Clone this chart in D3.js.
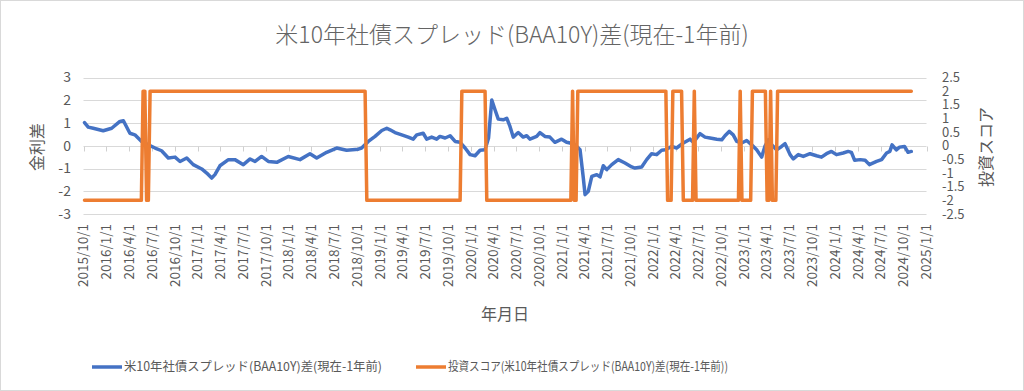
<!DOCTYPE html>
<html><head><meta charset="utf-8">
<script src="https://cdn.jsdelivr.net/npm/d3@7"></script>
<style>
body{margin:0;background:#fff}
svg{display:block}
text{font-family:"Noto Sans CJK JP","Noto Sans",sans-serif;fill:#595959}
</style>
</head><body>
<svg id="chart" width="1024" height="391"></svg>
<script>
const titleText = "米10年社債スプレッド(BAA10Y)差(現在-1年前)";
const seriesNames = ["米10年社債スプレッド(BAA10Y)差(現在-1年前)", "投資スコア(米10年社債スプレッド(BAA10Y)差(現在-1年前))"];
const leftAxisTitle = "金利差";
const rightAxisTitle = "投資スコア";
const xAxisTitle = "年月日";

const xTickLabels = ["2015/10/1","2016/1/1","2016/4/1","2016/7/1","2016/10/1","2017/1/1","2017/4/1","2017/7/1","2017/10/1","2018/1/1","2018/4/1","2018/7/1","2018/10/1","2019/1/1","2019/4/1","2019/7/1","2019/10/1","2020/1/1","2020/4/1","2020/7/1","2020/10/1","2021/1/1","2021/4/1","2021/7/1","2021/10/1","2022/1/1","2022/4/1","2022/7/1","2022/10/1","2023/1/1","2023/4/1","2023/7/1","2023/10/1","2024/1/1","2024/4/1","2024/7/1","2024/10/1","2025/1/1"];
const leftTicks = [-3,-2,-1,0,1,2,3];
const rightTicks = [-2.5,-2,-1.5,-1,-0.5,0,0.5,1,1.5,2,2.5];

const spreadDates = ["2015-10-05","2015-10-20","2015-11-09","2015-12-19","2016-01-22","2016-02-24","2016-03-09","2016-04-04","2016-04-24","2016-05-21","2016-06-17","2016-07-14","2016-08-09","2016-09-05","2016-10-02","2016-10-22","2016-11-18","2016-12-14","2017-01-17","2017-02-06","2017-02-26","2017-03-11","2017-03-31","2017-05-04","2017-05-30","2017-07-03","2017-07-30","2017-08-19","2017-09-14","2017-10-11","2017-11-14","2017-12-30","2018-02-15","2018-03-27","2018-04-23","2018-06-02","2018-07-12","2018-08-21","2018-10-07","2018-10-20","2018-11-16","2018-12-13","2019-01-09","2019-01-29","2019-02-11","2019-03-03","2019-03-30","2019-04-25","2019-05-15","2019-05-29","2019-06-24","2019-07-08","2019-07-28","2019-08-17","2019-08-30","2019-09-20","2019-10-10","2019-10-30","2019-11-19","2019-12-09","2019-12-29","2020-01-18","2020-02-07","2020-02-27","2020-03-12","2020-03-25","2020-04-07","2020-04-20","2020-05-10","2020-05-24","2020-06-06","2020-06-19","2020-07-09","2020-07-29","2020-08-12","2020-08-25","2020-09-21","2020-10-04","2020-10-24","2020-11-13","2020-12-03","2020-12-30","2021-01-19","2021-02-02","2021-02-22","2021-03-14","2021-03-27","2021-04-03","2021-04-16","2021-04-30","2021-05-20","2021-06-02","2021-06-15","2021-06-29","2021-07-19","2021-08-14","2021-09-10","2021-10-07","2021-10-20","2021-11-16","2021-12-06","2021-12-26","2022-01-15","2022-02-04","2022-02-18","2022-03-16","2022-04-05","2022-05-02","2022-05-29","2022-06-11","2022-07-08","2022-07-28","2022-08-17","2022-09-13","2022-10-03","2022-10-16","2022-11-02","2022-11-18","2022-12-02","2022-12-22","2023-01-11","2023-01-31","2023-02-20","2023-03-12","2023-03-25","2023-04-08","2023-04-21","2023-05-11","2023-05-31","2023-06-14","2023-07-04","2023-07-17","2023-08-06","2023-08-26","2023-09-22","2023-10-18","2023-11-07","2023-11-27","2023-12-17","2024-01-06","2024-02-02","2024-02-22","2024-03-06","2024-03-19","2024-04-10","2024-04-30","2024-05-17","2024-06-15","2024-07-05","2024-07-25","2024-08-07","2024-08-16","2024-09-02","2024-09-15","2024-10-05","2024-10-19","2024-11-01"];
const spreadValues = [1.02,0.82,0.77,0.66,0.77,1.07,1.10,0.55,0.48,0.19,0.04,-0.10,-0.22,-0.54,-0.50,-0.69,-0.54,-0.83,-1.02,-1.20,-1.42,-1.27,-0.88,-0.61,-0.61,-0.83,-0.58,-0.69,-0.47,-0.69,-0.73,-0.47,-0.61,-0.35,-0.54,-0.29,-0.10,-0.20,-0.15,-0.10,0.19,0.41,0.67,0.77,0.70,0.58,0.48,0.38,0.29,0.48,0.55,0.29,0.38,0.29,0.41,0.34,0.44,0.19,0.15,-0.10,-0.39,-0.44,-0.20,-0.18,0.34,2.01,1.58,1.17,1.14,1.21,0.85,0.38,0.58,0.38,0.44,0.29,0.41,0.58,0.41,0.38,0.15,0.29,0.15,0.12,0.04,-0.18,-1.42,-2.15,-2.00,-1.35,-1.27,-1.37,-0.88,-1.05,-0.83,-0.61,-0.76,-0.93,-0.98,-0.93,-0.61,-0.35,-0.39,-0.20,-0.18,-0.03,-0.10,0.12,0.29,0.15,0.53,0.38,0.34,0.29,0.26,0.44,0.63,0.48,0.19,0.12,0.23,0.04,-0.18,-0.50,-0.03,0.26,0.04,-0.18,-0.03,0.09,-0.39,-0.58,-0.39,-0.47,-0.35,-0.44,-0.50,-0.35,-0.25,-0.39,-0.32,-0.25,-0.29,-0.64,-0.61,-0.64,-0.83,-0.69,-0.61,-0.32,-0.25,0.04,-0.18,-0.06,-0.03,-0.29,-0.25];

const scoreDates = ["2015-10-05","2016-05-20","2016-05-27","2016-06-03","2016-06-10","2016-06-17","2016-06-24","2018-11-03","2018-11-10","2019-11-19","2019-11-26","2020-02-27","2020-03-05","2021-02-05","2021-02-12","2021-02-19","2021-02-26","2021-03-05","2022-02-21","2022-02-28","2022-03-14","2022-03-21","2022-04-25","2022-05-02","2022-06-08","2022-06-15","2022-06-22","2022-12-09","2022-12-16","2022-12-23","2023-01-27","2023-02-03","2023-03-27","2023-04-03","2023-04-10","2023-04-17","2023-04-24","2023-05-08","2023-05-15","2024-11-01"];
const scoreValues = [-2,-2,2,2,-2,-2,2,2,-2,-2,2,2,-2,-2,2,-2,-2,2,2,-2,-2,2,2,-2,-2,2,-2,-2,2,-2,-2,2,2,-2,-2,2,-2,-2,2,2];

const svg = d3.select("#chart");
const W = 1024, H = 391;
const plot = {left: 83.5, right: 926.5, top: 77.5, bottom: 214};

svg.append("rect").attr("x",0.5).attr("y",0.5).attr("width",W-1).attr("height",H-1)
  .attr("fill","#fff").attr("stroke","#D9D9D9");

const parseTick = d3.timeParse("%Y/%m/%d");
const parseDate = d3.timeParse("%Y-%m-%d");
const tickDates = xTickLabels.map(parseTick);

const x = d3.scaleTime().domain([tickDates[0], tickDates[tickDates.length-1]]).range([plot.left, plot.right]);
const yL = d3.scaleLinear().domain([-3,3]).range([plot.bottom, plot.top]);
const yR = d3.scaleLinear().domain([-2.5,2.5]).range([plot.bottom, plot.top]);

// gridlines
svg.append("g").selectAll("line").data(leftTicks).join("line")
  .attr("x1",plot.left).attr("x2",plot.right)
  .attr("y1",d=>Math.round(yL(d))+0.5).attr("y2",d=>Math.round(yL(d))+0.5)
  .attr("stroke","#D9D9D9").attr("stroke-width",1);

// x axis ticks on zero line
svg.append("g").selectAll("line").data(tickDates).join("line")
  .attr("x1",d=>Math.round(x(d))+0.5).attr("x2",d=>Math.round(x(d))+0.5)
  .attr("y1",Math.round(yL(0))+0.5).attr("y2",Math.round(yL(0))+5.5)
  .attr("stroke","#D0D0D0").attr("stroke-width",1);

// left tick labels
svg.append("g").selectAll("text").data(leftTicks).join("text")
  .attr("x",71).attr("y",d=>yL(d)).attr("dy","0.35em")
  .attr("text-anchor","end").attr("font-size",14).text(d=>d);

// right tick labels
svg.append("g").selectAll("text").data(rightTicks).join("text")
  .attr("x",942).attr("y",d=>yR(d)).attr("dy","0.35em")
  .attr("text-anchor","start").attr("font-size",13).text(d=>d);

// x tick labels
svg.append("g").selectAll("text").data(xTickLabels).join("text")
  .attr("transform",(d,i)=>`translate(${x(tickDates[i])},224) rotate(-90)`)
  .attr("dy","0.35em").attr("text-anchor","end").attr("font-size",13.5).text(d=>d);

// axis titles
svg.append("text").attr("transform","translate(37,147) rotate(-90)").attr("dy","0.35em")
  .attr("text-anchor","middle").attr("font-size",16).text(leftAxisTitle);
svg.append("text").attr("transform","translate(986,147) rotate(-90)").attr("dy","0.35em")
  .attr("text-anchor","middle").attr("font-size",16).text(rightAxisTitle);
svg.append("text").attr("x",(plot.left+plot.right)/2).attr("y",314).attr("dy","0.35em")
  .attr("text-anchor","middle").attr("font-size",16).text(xAxisTitle);

// title
svg.append("text").attr("x",512).attr("y",35).attr("dy","0.35em")
  .attr("text-anchor","middle").attr("font-size",23).attr("font-weight",300)
  .style("fill","#646464").text(titleText);

// series
const spread = spreadDates.map((d,i)=>({date:parseDate(d), v:spreadValues[i]}));
const score = scoreDates.map((d,i)=>({date:parseDate(d), v:scoreValues[i]}));

svg.append("path").datum(spread)
  .attr("d", d3.line().x(d=>x(d.date)).y(d=>yL(d.v)))
  .attr("fill","none").attr("stroke","#4472C4").attr("stroke-width",3.5)
  .attr("stroke-linejoin","round").attr("stroke-linecap","round");

svg.append("path").datum(score)
  .attr("d", d3.line().x(d=>x(d.date)).y(d=>yR(d.v)))
  .attr("fill","none").attr("stroke","#ED7D31").attr("stroke-width",3.5)
  .attr("stroke-linejoin","round").attr("stroke-linecap","round");

// legend
const colors = ["#4472C4","#ED7D31"];
const legY = 367;
const leg = svg.append("g");
const legStarts = [92, 416];
const legTextLen = [258, 280];
seriesNames.forEach((name,i)=>{
  const x0 = legStarts[i];
  leg.append("line").attr("x1",x0).attr("x2",x0+30).attr("y1",legY).attr("y2",legY)
    .attr("stroke",colors[i]).attr("stroke-width",3.5);
  leg.append("text").attr("x",x0+32).attr("y",legY).attr("dy","0.35em")
    .attr("font-size",12.5).attr("textLength",legTextLen[i]).attr("lengthAdjust","spacingAndGlyphs")
    .text(name);
});
</script>
</body></html>
